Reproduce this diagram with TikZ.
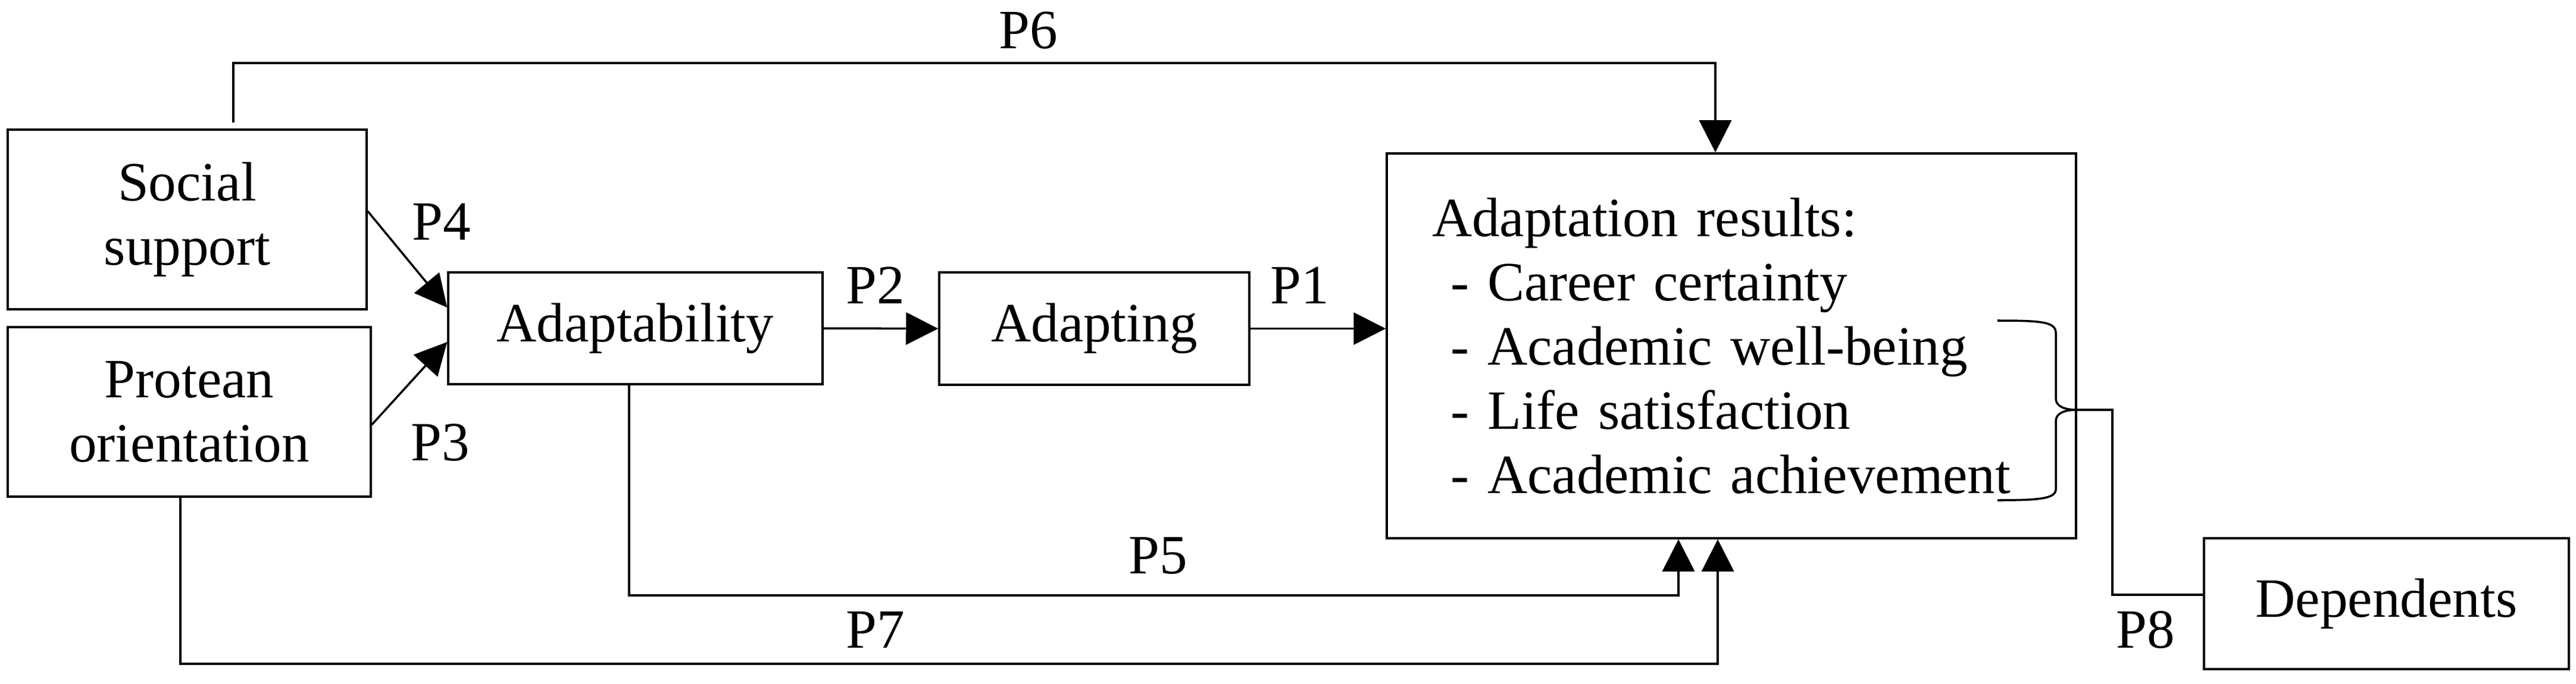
\documentclass[tikz,border=0pt]{standalone}
\usepackage{fontspec}
\setmainfont{Liberation Serif}
\usetikzlibrary{arrows.meta}
\newcommand{\diagfont}{\fontsize{26.5}{30.7}\selectfont}
\tikzset{
  box-var/.style={
    draw=black,
    line width=1pt,
    inner sep=0pt,
    align=center,
    font=\diagfont
  },
  link-plain/.style={line width=1pt, line join=miter},
  arrow-main/.style={link-plain, -{Triangle[length=5.4mm, width=5.4mm]}},
  path-label/.style={inner sep=0pt, font=\diagfont}
}

\begin{document}
\begin{tikzpicture}
  \useasboundingbox (0,0) rectangle (43.28,-11.49);
  % variables
  \node[box-var, minimum width=6.03cm, minimum height=3.02cm] (social) at (3.145,-3.69) {Social\\support};
  \node[box-var, minimum width=6.10cm, minimum height=2.85cm] (protean) at (3.18,-6.925) {Protean\\orientation};
  \node[box-var, minimum width=6.29cm, minimum height=1.88cm] (adapt) at (10.675,-5.52) {Adaptability};
  \node[box-var, minimum width=5.21cm, minimum height=1.89cm] (adapting) at (18.385,-5.525) {Adapting};
  \node[box-var, minimum width=11.58cm, minimum height=6.47cm, text width=10.06cm, inner xsep=0.76cm, align=left] (results) at (29.09,-5.815)
    {Adaptation results:\\~- Career certainty\\~- Academic well-being\\~- Life satisfaction\\~- Academic achievement};
  \node[box-var, minimum width=6.13cm, minimum height=2.2cm] (deps) at (40.095,-10.15) {Dependents};
  % paths
  \draw[arrow-main] ([yshift=0.14cm]social.east) -- ([yshift=0.35cm]adapt.west);
  \draw[arrow-main] ([yshift=-0.215cm]protean.east) -- ([yshift=-0.23cm]adapt.west);
  \draw[arrow-main] (adapt.east) -- (adapting.west);
  \draw[arrow-main] (adapting.east) -- (adapting.east -| results.west);
  \draw[arrow-main] ([xshift=0.775cm,yshift=0.1cm]social.north) -- ++(0,1.0) -| ([xshift=-0.27cm]results.north);
  \draw[arrow-main] ([xshift=-0.105cm]adapt.south) -- ++(0,-3.53) -| ([xshift=-0.89cm]results.south);
  \draw[arrow-main] ([xshift=-0.15cm]protean.south) -- ++(0,-2.79) -| ([xshift=-0.23cm]results.south);
  % brace round the last three results
  \draw[link-plain] (33.56,-5.39) .. controls (34.30,-5.39) and (34.54,-5.41) .. (34.54,-5.60)
    -- (34.54,-6.70) .. controls (34.54,-6.84) and (34.70,-6.89) .. (34.90,-6.89) coordinate (brace-tip)
    .. controls (34.70,-6.89) and (34.54,-6.94) .. (34.54,-7.08)
    -- (34.54,-8.22) .. controls (34.54,-8.38) and (34.30,-8.41) .. (33.56,-8.41);
  \draw[link-plain] (brace-tip) -- ++(0.59,0) |- ([yshift=0.15cm]deps.west);
  % path labels
  \node[path-label] (lab-p1) at (21.84,-4.80) {P1};
  \node[path-label] (lab-p2) at (14.71,-4.80) {P2};
  \node[path-label] (lab-p3) at (7.40,-7.44) {P3};
  \node[path-label] (lab-p4) at (7.42,-3.73) {P4};
  \node[path-label] (lab-p5) at (19.46,-9.34) {P5};
  \node[path-label] (lab-p6) at (17.28,-0.51) {P6};
  \node[path-label] (lab-p7) at (14.71,-10.59) {P7};
  \node[path-label] (lab-p8) at (36.05,-10.59) {P8};
\end{tikzpicture}
\end{document}
